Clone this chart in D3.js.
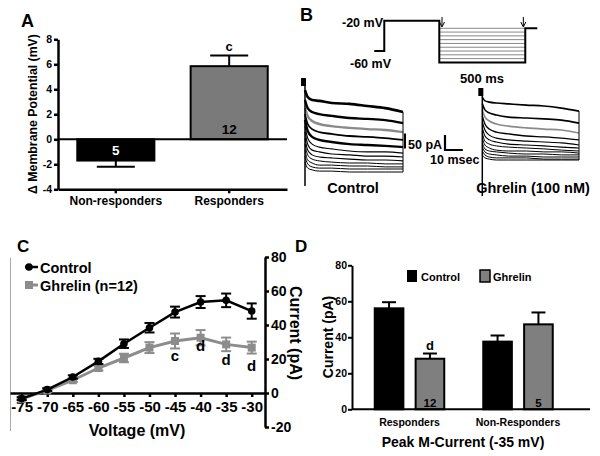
<!DOCTYPE html>
<html><head><meta charset="utf-8">
<script src="https://cdn.jsdelivr.net/npm/d3@7"></script>
<style>
body{margin:0;background:#fff}
svg{display:block}
text{font-family:"Liberation Sans",Arial,Helvetica,sans-serif;font-weight:bold;fill:#000}
</style>
</head><body>
<svg id="c" width="600" height="456"></svg>
<script>
// ---------- Panel A data ----------
const aCategories = ["Non-responders", "Responders"];
const aValues = [-1.7, 5.85];
const aErrors = [0.5, 0.85];
const aN = ["5", "12"];
const aSig = ["", "c"];
const aTicks = [8, 6, 4, 2, 0, -2, -4];

// ---------- Panel B data ----------
const protocolTimes = [0, 58, 58, 378, 378, 878, 878, 948];       // ms
const protocolVolts = [-60, -60, -20, -20, -75, -75, -30, -30];    // mV
const stepVolts = [-30, -35, -40, -45, -50, -55, -60, -65, -70];
const arrowTimes = [388, 861];
const traceTimes = [0, 1.5, 4, 8, 15, 25, 35, 45, 55];             // ms
const controlTraces = [
  [283, 260, 250, 247, 240, 237, 230, 223, 210],
  [250, 223, 210, 203, 197, 190, 187, 183, 173],
  [223, 197, 180, 170, 163, 157, 153, 150, 143],
  [203, 170, 153, 143, 137, 130, 127, 123, 117],
  [183, 147, 127, 117, 110, 103, 100, 97, 93],
  [163, 123, 103, 93, 87, 80, 77, 77, 73],
  [143, 103, 83, 77, 70, 67, 63, 63, 60],
  [123, 83, 67, 60, 57, 53, 50, 50, 47],
  [103, 67, 53, 47, 43, 40, 40, 37, 37],
  [83, 50, 40, 33, 33, 30, 30, 27, 27],
  [63, 37, 27, 23, 23, 20, 20, 20, 20],
  [43, 23, 17, 13, 13, 10, 10, 10, 10]
];
const ghrelinTraces = [
  [220, 207, 203, 200, 197, 193, 190, 183, 173],
  [197, 177, 167, 160, 153, 150, 147, 143, 133],
  [177, 153, 140, 130, 123, 117, 113, 110, 100],
  [157, 130, 113, 103, 97, 90, 87, 83, 77],
  [137, 110, 93, 83, 77, 73, 70, 67, 60],
  [117, 90, 77, 70, 63, 60, 57, 53, 50],
  [100, 73, 63, 57, 53, 50, 47, 43, 40],
  [83, 60, 50, 43, 40, 40, 37, 37, 33],
  [67, 47, 40, 37, 33, 30, 30, 27, 27],
  [53, 37, 30, 27, 23, 23, 20, 20, 20],
  [40, 27, 20, 17, 17, 17, 13, 13, 13],
  [27, 17, 13, 10, 10, 10, 10, 10, 10]
];
const scaleBarPA = 50;
const scaleBarMs = 10;

// ---------- Panel C data ----------
const cVoltages = [-75, -70, -65, -60, -55, -50, -45, -40, -35, -30];
const cControl = [-3.3, 2, 9.4, 18.6, 29, 38.4, 47.6, 53.5, 54.5, 48.2];
const cControlErr = [0.8, 0.8, 1, 1.5, 2.5, 2.8, 3.2, 3.5, 4, 4.5];
const cGhrelin = [-3.5, 1.5, 7.5, 14.7, 20.6, 26.7, 30.6, 32.5, 28.6, 26.7];
const cGhrelinErr = [0.8, 0.8, 1, 1.5, 2.5, 3.2, 4.4, 4.5, 4, 3.5];
const cSig = ["", "", "", "", "", "", "c", "d", "d", "d"];
const cYTicks = [80, 60, 40, 20, 0, -20];
const cLegend = ["Control", "Ghrelin (n=12)"];

// ---------- Panel D data ----------
const dGroups = ["Responders", "Non-Responders"];
const dSeries = ["Control", "Ghrelin"];
const dControl = [56.1, 37.6];
const dControlErr = [3.4, 3.4];
const dGhrelin = [28.1, 47.2];
const dGhrelinErr = [2.9, 6.6];
const dN = ["12", "5"];
const dSig = ["d", ""];
const dTicks = [0, 20, 40, 60, 80];

// =====================================================
const svg = d3.select("#c");
svg.append("rect").attr("width", 600).attr("height", 456).attr("fill", "#fff");
const fmt = d => String(d);   // plain hyphen minus as in the original

function label(g, x, y, s, size, anchor, rot, fill) {
  const t = g.append("text").attr("x", x).attr("y", y).text(s)
    .attr("font-size", size).attr("text-anchor", anchor || "start");
  if (rot) t.attr("transform", `rotate(${rot},${x},${y})`);
  if (fill) t.style("fill", fill);
  return t;
}
function styleAxis(g, fs, w) {
  g.selectAll("path.domain").attr("stroke", "#000").attr("stroke-width", w);
  g.selectAll(".tick line").attr("stroke", "#000").attr("stroke-width", w);
  g.selectAll(".tick text").attr("font-size", fs)
    .style("font-family", '"Liberation Sans",Arial,sans-serif').style("font-weight", "bold");
}

// ---------------- Panel A ----------------
{
  const g = svg.append("g");
  const y = d3.scaleLinear().domain([-4, 8]).range([189.3, 39.3]);
  const x = d3.scaleBand().domain(aCategories).range([58, 287]).paddingInner(0.32).paddingOuter(0.17);
  g.selectAll("rect.bar").data(aCategories).join("rect")
    .attr("x", d => x(d)).attr("width", x.bandwidth())
    .attr("y", (d, i) => y(Math.max(0, aValues[i])))
    .attr("height", (d, i) => Math.abs(y(aValues[i]) - y(0)))
    .attr("fill", (d, i) => i === 0 ? "#000" : "#7a7a7a")
    .attr("stroke", "#000").attr("stroke-width", 2);
  aCategories.forEach((c, i) => {
    const cx = x(c) + x.bandwidth() / 2;
    const v = aValues[i], s = Math.sign(v);
    const e = v + s * aErrors[i];
    g.append("line").attr("x1", cx).attr("x2", cx).attr("y1", y(v)).attr("y2", y(e))
      .attr("stroke", "#000").attr("stroke-width", 2);
    g.append("line").attr("x1", cx - 19).attr("x2", cx + 19).attr("y1", y(e)).attr("y2", y(e))
      .attr("stroke", "#000").attr("stroke-width", 2);
    if (aSig[i]) label(g, cx, y(e) - 5, aSig[i], 13, "middle");
    const ny = v < 0 ? (y(0) + y(v)) / 2 + 5 : y(0) - 5;
    label(g, cx, ny, aN[i], 13.5, "middle", 0, i === 0 ? "#fff" : "#000");
  });
  g.append("line").attr("x1", 58).attr("x2", 287).attr("y1", y(0)).attr("y2", y(0))
    .attr("stroke", "#000").attr("stroke-width", 2);
  const ya = g.append("g").attr("transform", "translate(58,0)")
    .call(d3.axisLeft(y).tickValues(aTicks).tickFormat(fmt).tickSize(4).tickSizeOuter(0).tickPadding(2));
  styleAxis(ya, 10.5, 2.5);
  const xa = g.append("g").attr("transform", `translate(0,${y(-4)})`)
    .call(d3.axisBottom(x).tickSize(4).tickSizeOuter(0).tickPadding(3));
  styleAxis(xa, 12, 2.5);
  label(g, 33, 114, "\u0394 Membrane Potential (mV)", 12.3, "middle", -90).attr("dy", "0.35em");
  label(g, 21, 27, "A", 18);
}

// ---------------- Panel B ----------------
{
  const g = svg.append("g");
  // voltage protocol
  const px = d3.scaleLinear().domain([0, 948]).range([374.3, 537.3]);
  const pv = d3.scaleLinear().domain([-75, -20]).range([62.4, 20.7]);
  stepVolts.forEach(v => {
    g.append("line").attr("x1", px(378)).attr("x2", px(878)).attr("y1", pv(v)).attr("y2", pv(v))
      .attr("stroke", "#888").attr("stroke-width", 1);
  });
  g.append("path").attr("d", d3.line().x((d, i) => px(protocolTimes[i])).y(d => pv(d))(protocolVolts))
    .attr("fill", "none").attr("stroke", "#000").attr("stroke-width", 2);
  arrowTimes.forEach(t => {
    const ax = px(t) + 1;
    g.append("line").attr("x1", ax).attr("x2", ax).attr("y1", 17).attr("y2", 26).attr("stroke", "#000").attr("stroke-width", 1);
    g.append("path").attr("d", `M${ax - 2.5},${22}L${ax},${27}L${ax + 2.5},${22}`).attr("fill", "none").attr("stroke", "#000").attr("stroke-width", 1);
  });
  label(g, 342, 27, "-20 mV", 12.5);
  label(g, 350, 68, "-60 mV", 12.5);
  label(g, 460, 83, "500 ms", 13);
  label(g, 300, 21, "B", 18);

  function drawTraces(traces, x0, x1, yBase, topY, bottomY, widths) {
    const tx = d3.scaleLinear().domain([0, 55]).range([x0, x1]);
    const ty = d3.scaleLinear().domain([0, 300]).range([yBase, yBase - 90]);
    const line = d3.line().x((d, i) => tx(traceTimes[i])).y(d => ty(d)).curve(d3.curveMonotoneX);
    traces.slice().reverse().forEach((tr, ri) => {
      const i = traces.length - 1 - ri;
      g.append("path").attr("d", line(tr)).attr("fill", "none")
        .attr("stroke", i === 2 ? "#8a8a8a" : "#000")
        .attr("stroke-width", widths[i] || 1);
    });
    g.append("line").attr("x1", x0).attr("x2", x0).attr("y1", topY).attr("y2", bottomY)
      .attr("stroke", "#000").attr("stroke-width", 1.5);
    g.append("rect").attr("x", x0 - 4).attr("y", topY).attr("width", 5).attr("height", 8).attr("fill", "#000");
    g.append("line").attr("x1", x1).attr("x2", x1)
      .attr("y1", ty(traces[0][traces[0].length - 1])).attr("y2", ty(traces[traces.length - 1][8]))
      .attr("stroke", "#000").attr("stroke-width", 1);
    return { tx, ty };
  }
  const c = drawTraces(controlTraces, 305, 403, 175, 78, 186, [2.6, 2.4, 2.4, 1.8, 2.4, 1.2, 1.2, 1.1, 1, 1, 1, 1]);
  drawTraces(ghrelinTraces, 482.3, 579, 163, 88, 196, [1.6, 1.6, 1.6, 1.3, 1.2, 1.1, 1, 1, 1, 1, 1, 1]);
  // scale bars
  const barH = c.ty(0) - c.ty(scaleBarPA);
  const barW = c.tx(scaleBarMs) - c.tx(0);
  g.append("line").attr("x1", 405).attr("x2", 405).attr("y1", 133.5).attr("y2", 133.5 + barH)
    .attr("stroke", "#000").attr("stroke-width", 2);
  g.append("path").attr("d", `M445,${150 - barH}V150H${445 + barW}`)
    .attr("fill", "none").attr("stroke", "#000").attr("stroke-width", 2.2);
  label(g, 408, 149, "50 pA", 12.5);
  label(g, 430, 164, "10 msec", 12.5);
  label(g, 353, 193, "Control", 14.5, "middle");
  label(g, 533, 193, "Ghrelin (100 nM)", 14.5, "middle");
}

// ---------------- Panel C ----------------
{
  const g = svg.append("g");
  const x = d3.scaleLinear().domain([-77.29, -27.4]).range([10, 265]);
  const y = d3.scaleLinear().domain([-20, 80]).range([427, 257]);
  g.append("line").attr("x1", 10.5).attr("x2", 10.5).attr("y1", 258).attr("y2", 431)
    .attr("stroke", "#aaa").attr("stroke-width", 1);
  const xa = g.append("g").attr("transform", `translate(0,${y(0)})`)
    .call(d3.axisBottom(x).tickValues(cVoltages).tickFormat(fmt).tickSize(4).tickSizeOuter(0).tickPadding(4));
  styleAxis(xa, 15, 2.5);
  const ya = g.append("g").attr("transform", "translate(265,0)")
    .call(d3.axisRight(y).tickValues(cYTicks).tickFormat(fmt).tickSize(4).tickSizeOuter(0).tickPadding(2));
  styleAxis(ya, 14, 2.5);

  function series(vals, errs, color, lw, marker) {
    const line = d3.line().x((d, i) => x(cVoltages[i])).y(d => y(d));
    g.append("path").attr("d", line(vals)).attr("fill", "none").attr("stroke", color).attr("stroke-width", lw);
    vals.forEach((v, i) => {
      const cx = x(cVoltages[i]);
      const e = errs[i];
      g.append("line").attr("x1", cx).attr("x2", cx).attr("y1", y(v - e)).attr("y2", y(v + e)).attr("stroke", color).attr("stroke-width", 2);
      [v - e, v + e].forEach(ev => g.append("line").attr("x1", cx - 5).attr("x2", cx + 5).attr("y1", y(ev)).attr("y2", y(ev)).attr("stroke", color).attr("stroke-width", 2));
      if (marker === "circle") g.append("circle").attr("cx", cx).attr("cy", y(v)).attr("r", 3.8).attr("fill", color);
      else g.append("rect").attr("x", cx - 4).attr("y", y(v) - 4).attr("width", 8).attr("height", 8).attr("fill", color);
    });
  }
  series(cGhrelin, cGhrelinErr, "#8c8c8c", 3, "square");
  series(cControl, cControlErr, "#000", 2.5, "circle");
  cSig.forEach((s, i) => {
    if (!s) return;
    const off = [0, 0, 0, 0, 0, 0, 13, 6, 14, 17][i];
    label(g, x(cVoltages[i]), y(cGhrelin[i] - cGhrelinErr[i]) + off, s, 15, "middle");
  });
  // legend
  g.append("line").attr("x1", 25).attr("x2", 38).attr("y1", 267).attr("y2", 267).attr("stroke", "#000").attr("stroke-width", 2.5);
  g.append("circle").attr("cx", 29).attr("cy", 267).attr("r", 3.8).attr("fill", "#000");
  g.append("line").attr("x1", 25).attr("x2", 38).attr("y1", 285).attr("y2", 285).attr("stroke", "#8c8c8c").attr("stroke-width", 3);
  g.append("rect").attr("x", 25).attr("y", 281).attr("width", 8).attr("height", 8).attr("fill", "#8c8c8c");
  label(g, 40, 272.5, cLegend[0], 14.5);
  label(g, 40, 290.5, cLegend[1], 14.5);
  label(g, 137, 436, "Voltage (mV)", 16, "middle");
  label(g, 289.5, 333, "Current (pA)", 16, "middle", 90);
  label(g, 17, 252, "C", 17);
}

// ---------------- Panel D ----------------
{
  const g = svg.append("g");
  const y = d3.scaleLinear().domain([0, 80]).range([409.3, 265.3]);
  const gx = d3.scaleBand().domain(dGroups).range([355.25, 572.25]);
  const sx = d3.scaleBand().domain(dSeries).range([19.5, 89]).paddingInner(0.3);
  const vals = [dControl, dGhrelin], errs = [dControlErr, dGhrelinErr];
  const fills = ["#000", "#7f7f7f"];
  dGroups.forEach((grp, gi) => {
    dSeries.forEach((s, si) => {
      const bx = gx(grp) + sx(s);
      const v = vals[si][gi], e = errs[si][gi];
      const cx = bx + sx.bandwidth() / 2;
      g.append("line").attr("x1", cx).attr("x2", cx).attr("y1", y(v)).attr("y2", y(v + e)).attr("stroke", "#000").attr("stroke-width", 2);
      g.append("line").attr("x1", cx - 7).attr("x2", cx + 7).attr("y1", y(v + e)).attr("y2", y(v + e)).attr("stroke", "#000").attr("stroke-width", 2);
      g.append("rect").attr("x", bx).attr("width", sx.bandwidth()).attr("y", y(v)).attr("height", y(0) - y(v))
        .attr("fill", fills[si]).attr("stroke", "#000").attr("stroke-width", 2);
      if (si === 1) {
        label(g, cx, 407, dN[gi], 11.5, "middle");
        if (dSig[gi]) label(g, cx, y(v + e) - 4, dSig[gi], 13, "middle");
      }
    });
  });
  const ya = g.append("g").attr("transform", "translate(352,0)")
    .call(d3.axisLeft(y).tickValues(dTicks).tickFormat(fmt).tickSize(4).tickSizeOuter(0).tickPadding(1));
  styleAxis(ya, 10.5, 2);
  g.append("line").attr("x1", 352).attr("x2", 590).attr("y1", y(0)).attr("y2", y(0)).attr("stroke", "#000").attr("stroke-width", 2);
  dGroups.forEach(grp => label(g, gx(grp) + gx.bandwidth() / 2, 426, grp, 10.5, "middle"));
  label(g, 463, 447, "Peak M-Current (-35 mV)", 14, "middle");
  label(g, 328, 337, "Current (pA)", 14, "middle", -90).attr("dy", "0.35em");
  // legend
  g.append("rect").attr("x", 407).attr("y", 270).attr("width", 10).attr("height", 12).attr("fill", "#000");
  g.append("rect").attr("x", 480).attr("y", 270).attr("width", 10).attr("height", 12).attr("fill", "#7f7f7f").attr("stroke", "#000").attr("stroke-width", 1.5);
  label(g, 421, 280.5, dSeries[0], 11);
  label(g, 493, 280.5, dSeries[1], 11);
  label(g, 295, 252, "D", 17);
}
</script>
</body></html>
